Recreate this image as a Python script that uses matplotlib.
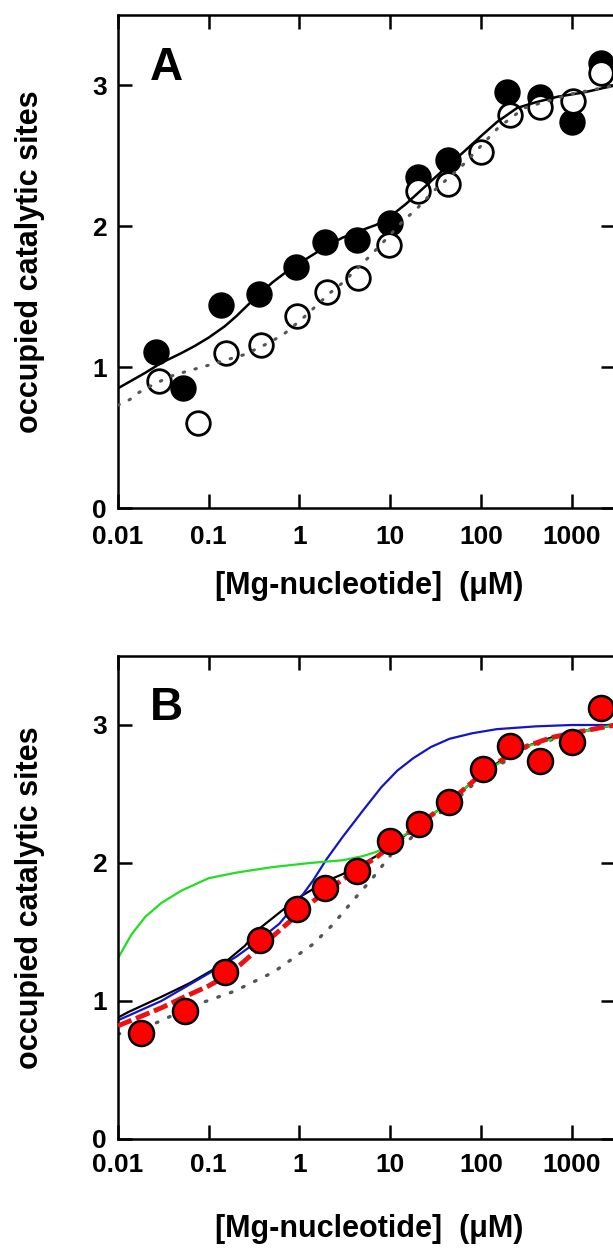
import matplotlib
matplotlib.use("Agg")
import matplotlib.pyplot as plt
from matplotlib.ticker import FixedLocator, NullLocator

plt.rcParams['font.family'] = ['Liberation Sans', 'DejaVu Sans']
plt.rcParams['font.weight'] = 'bold'

# ---- panel A data ----
a_filled_x = [0.026, 0.052, 0.135, 0.36, 0.92, 1.93, 4.3, 10, 20, 43, 196, 450, 1020, 2100]
a_filled_y = [1.11, 0.85, 1.44, 1.52, 1.71, 1.89, 1.90, 2.02, 2.35, 2.47, 2.95, 2.92, 2.74, 3.16]
a_open_x = [0.028, 0.076, 0.155, 0.38, 0.94, 2.0, 4.4, 9.8, 20, 43, 100, 210, 450, 1040, 2100]
a_open_y = [0.90, 0.60, 1.10, 1.16, 1.36, 1.53, 1.63, 1.87, 2.25, 2.30, 2.53, 2.79, 2.85, 2.89, 3.09]

# fitted curves
a_fit_x = [0.01, 0.02, 0.03, 0.05, 0.07, 0.1, 0.15, 0.2, 0.3, 0.5, 0.8, 1.2, 2, 3, 4.3, 7, 10,
           15, 25, 40, 65, 100, 150, 250, 400, 700, 1350, 3000]
a_fit_y = [0.85, 0.96, 1.03, 1.10, 1.15, 1.21, 1.29, 1.36, 1.47, 1.60, 1.70, 1.77, 1.86, 1.92, 1.96, 2.01, 2.07,
           2.16, 2.29, 2.41, 2.53, 2.64, 2.74, 2.84, 2.88, 2.92, 2.95, 3.00]
a_dot_x = [0.01, 0.0135, 0.017, 0.025, 0.04, 0.057, 0.095, 0.25, 0.42, 0.66, 1.1, 2.2, 3.0, 6.0, 10, 14.4,
           18.7, 30, 60, 155, 300, 1000, 3000]
a_dot_y = [0.73, 0.77, 0.82, 0.88, 0.94, 0.97, 1.01, 1.09, 1.16, 1.23, 1.35, 1.53, 1.60, 1.79, 1.94, 2.05,
           2.11, 2.25, 2.42, 2.70, 2.84, 2.94, 3.00]

# ---- panel B data ----
b_pts_x = [0.018, 0.055, 0.15, 0.37, 0.94, 1.93, 4.27, 10, 20.6, 44, 105, 207, 450, 1020, 2100]
b_pts_y = [0.77, 0.93, 1.21, 1.445, 1.67, 1.82, 1.94, 2.16, 2.28, 2.445, 2.68, 2.85, 2.74, 2.88, 3.12]

b_black_x = [0.01, 0.013, 0.03, 0.062, 0.145, 0.25, 0.37, 0.6, 0.93, 1.4, 2.0, 3.0, 4.3, 7, 10, 20, 44,
             100, 200, 300, 600, 1000, 3000]
b_black_y = [0.88, 0.92, 1.03, 1.13, 1.27, 1.40, 1.53, 1.64, 1.74, 1.81, 1.87, 1.92, 1.97, 2.05, 2.12, 2.27, 2.44,
             2.64, 2.78, 2.84, 2.91, 2.94, 3.00]
b_red_x = [0.01, 0.03, 0.054, 0.1, 0.145, 0.22, 0.34, 0.6, 0.93, 1.4, 2.0, 3.0, 4.3, 7, 10, 20, 44, 100,
           200, 300, 600, 1000, 3000]
b_red_y = [0.82, 0.95, 1.03, 1.11, 1.17, 1.26, 1.37, 1.51, 1.62, 1.72, 1.80, 1.88, 1.95, 2.04, 2.12, 2.27, 2.44,
           2.64, 2.78, 2.84, 2.91, 2.94, 3.00]
b_blue_x = [0.01, 0.03, 0.1, 0.2, 0.34, 0.6, 0.93, 1.4, 2.0, 3.0, 5.0, 8.0, 12, 18, 28, 45, 80, 150, 400,
            1000, 3000]
b_blue_y = [0.86, 1.00, 1.20, 1.32, 1.43, 1.56, 1.71, 1.87, 2.03, 2.19, 2.38, 2.55, 2.67, 2.76, 2.84, 2.90,
            2.94, 2.97, 2.99, 3.00, 3.00]
b_green_x = [0.01, 0.014, 0.02, 0.03, 0.05, 0.1, 0.2, 0.5, 1.3, 3, 5, 7, 10, 20, 44, 100, 300, 1000, 3000]
b_green_y = [1.31, 1.48, 1.61, 1.71, 1.80, 1.89, 1.93, 1.97, 2.00, 2.02, 2.05, 2.08, 2.13, 2.27, 2.44, 2.64,
             2.84, 2.94, 3.00]
b_dot_x = [0.01, 0.026, 0.071, 0.19, 0.52, 1.4, 2.3, 3.8, 6.2, 10.2, 16.9, 27.7, 41, 100, 300, 1000, 3000]
b_dot_y = [0.76, 0.84, 0.97, 1.07, 1.21, 1.41, 1.55, 1.72, 1.88, 2.06, 2.18, 2.32, 2.39, 2.62, 2.83, 2.94, 3.00]

xticks = [0.01, 0.1, 1, 10, 100, 1000]
xticklabels = ['0.01', '0.1', '1', '10', '100', '1000']
yticks = [0, 1, 2, 3]

fig = plt.figure(figsize=(6.13, 12.5), dpi=100)
axA = fig.add_axes([118 / 613, 1 - 508 / 1250, 497 / 613, 493 / 1250])
axB = fig.add_axes([118 / 613, 1 - 1139 / 1250, 497 / 613, 483 / 1250])


def style_axes(ax, letter, pad, xlab_y):
    ax.set_xscale('log')
    ax.set_xlim(0.01, 3000)
    ax.set_ylim(0, 3.5)
    ax.xaxis.set_major_locator(FixedLocator(xticks))
    ax.xaxis.set_minor_locator(NullLocator())
    ax.set_xticklabels(xticklabels)
    ax.set_yticks(yticks)
    ax.tick_params(direction='in', length=10, width=1.8, top=True, right=True, labelsize=19)
    ax.tick_params(axis='x', pad=pad)
    ax.tick_params(axis='y', pad=8)
    for s in ax.spines.values():
        s.set_linewidth(1.8)
    ax.set_xlabel('[Mg-nucleotide]  (\u03bcM)', fontsize=22, fontweight='bold')
    ax.xaxis.set_label_coords(0.505, xlab_y)
    ax.set_ylabel('occupied catalytic sites', fontsize=22, fontweight='bold')
    ax.yaxis.set_label_coords(-0.146, 0.5)
    ax.text(0.064, 0.868, letter, transform=ax.transAxes, fontsize=33,
            fontweight='bold', va='baseline', ha='left')


style_axes(axA, 'A', 12, -0.128)
axA.plot(a_filled_x, a_filled_y, 'o', ms=18, mfc='black', mec='black', zorder=2)
axA.plot(a_open_x, a_open_y, 'o', ms=17, mfc='white', mec='black', mew=2, zorder=3)
axA.plot(a_fit_x, a_fit_y, '-', color='black', lw=1.8, zorder=4)
axA.plot(a_dot_x, a_dot_y, color='#555555', lw=2.2, dashes=(0.5, 3.5),
         dash_capstyle='round', zorder=4)

style_axes(axB, 'B', 10, -0.155)
axB.plot(b_dot_x, b_dot_y, color='#555555', lw=2.4, dashes=(0.5, 3.5),
         dash_capstyle='round', zorder=2)
axB.plot(b_black_x, b_black_y, '-', color='black', lw=1.6, zorder=2)
axB.plot(b_blue_x, b_blue_y, '-', color='#1414c8', lw=1.6, zorder=2)
axB.plot(b_green_x, b_green_y, '-', color='#22dd22', lw=1.6, zorder=2)
axB.plot(b_red_x, b_red_y, color='#ee1111', lw=3.5, dashes=(3, 1), zorder=3)
axB.plot(b_pts_x, b_pts_y, 'o', ms=18, mfc='#ff0000', mec='black', mew=1.8, zorder=4)

fig.savefig('out.png', dpi=100)
